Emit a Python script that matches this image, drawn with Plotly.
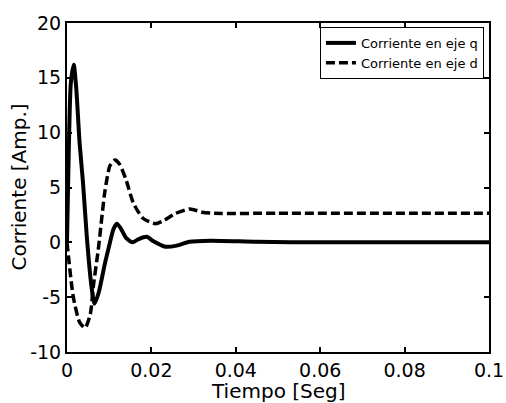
import plotly.graph_objects as go

# Data
t_q = [0, 0.0004, 0.0009, 0.0016, 0.0022, 0.003, 0.0038, 0.0047, 0.0057, 0.0065,
       0.0075, 0.009, 0.010, 0.011, 0.0118, 0.0127, 0.014, 0.0155, 0.017,
       0.0189, 0.0205, 0.0233, 0.026, 0.029, 0.034, 0.045, 0.06, 0.1]
i_q = [0, 8, 14.5, 16.2, 14, 9, 5.4, 0.5, -3.7, -5.6,
       -4.6, -1.9, -0.3, 1.2, 1.7, 1.3, 0.4, 0.0, 0.3,
       0.5, 0.1, -0.4, -0.3, 0.05, 0.15, 0.05, 0, 0]

t_d = [0, 0.0015, 0.003, 0.0043, 0.0055, 0.0063, 0.0074, 0.009,
       0.0102, 0.0114, 0.0125, 0.014, 0.0157, 0.018, 0.0209, 0.023, 0.0255,
       0.0291, 0.032, 0.035, 0.05, 0.1]
i_d = [0, -5, -7.3, -7.8, -6.6, -3.8, -0.7, 4.7,
       7.0, 7.5, 7.1, 5.7, 3.6, 2.2, 1.7, 2.0, 2.6,
       3.05, 2.75, 2.65, 2.65, 2.65]

x_ticks = [0, 0.02, 0.04, 0.06, 0.08, 0.1]
x_tick_labels = ["0", "0.02", "0.04", "0.06", "0.08", "0.1"]
y_ticks = [-10, -5, 0, 5, 10, 15, 20]
y_tick_labels = ["-10", "-5", "0", "5", "10", "15", "20"]

x_title = "Tiempo [Seg]"
y_title = "Corriente [Amp.]"

FONT = "DejaVu Sans"

fig = go.Figure()
fig.add_trace(go.Scatter(x=t_q, y=i_q, mode="lines", name="Corriente en eje q",
                         line=dict(color="black", width=4, shape="spline", smoothing=0.6)))
fig.add_trace(go.Scatter(x=t_d, y=i_d, mode="lines", name="Corriente en eje d",
                         line=dict(color="black", width=3.5, dash="9px,4px",
                                   shape="spline", smoothing=0.6)))

axis_common = dict(showline=True, linecolor="black", linewidth=2, mirror="ticks",
                   ticks="inside", ticklen=5, tickwidth=1.5, tickcolor="black",
                   showgrid=False, zeroline=False, automargin=False,
                   tickfont=dict(family=FONT, size=19, color="black"))

fig.update_xaxes(range=[0, 0.1], tickvals=x_ticks, ticktext=x_tick_labels,
                 ticklabelstandoff=0, **axis_common)
fig.update_yaxes(range=[-10, 20], tickvals=y_ticks, ticktext=y_tick_labels,
                 **axis_common)

fig.add_annotation(text=x_title, xref="paper", yref="paper", x=0.5, y=-0.118,
                   xanchor="center", yanchor="middle", showarrow=False,
                   font=dict(family=FONT, size=20, color="black"))
fig.add_annotation(text=y_title, xref="paper", yref="paper", x=-0.116, y=0.5,
                   xanchor="center", yanchor="middle", showarrow=False, textangle=-90,
                   font=dict(family=FONT, size=20, color="black"))

fig.update_layout(
    width=506, height=403,
    margin=dict(l=67, r=17, t=23, b=51, autoexpand=False),
    paper_bgcolor="white", plot_bgcolor="white",
    legend=dict(x=0.988, y=0.988, xanchor="right", yanchor="top",
                bgcolor="white", bordercolor="black", borderwidth=1,
                font=dict(family=FONT, size=13, color="black"),
                tracegroupgap=0, itemwidth=30),
    showlegend=True,
)

fig.write_html(
    "out.html",
    config={"displayModeBar": False},
    post_script="document.body.style.margin='0';document.body.style.overflow='hidden';",
)
